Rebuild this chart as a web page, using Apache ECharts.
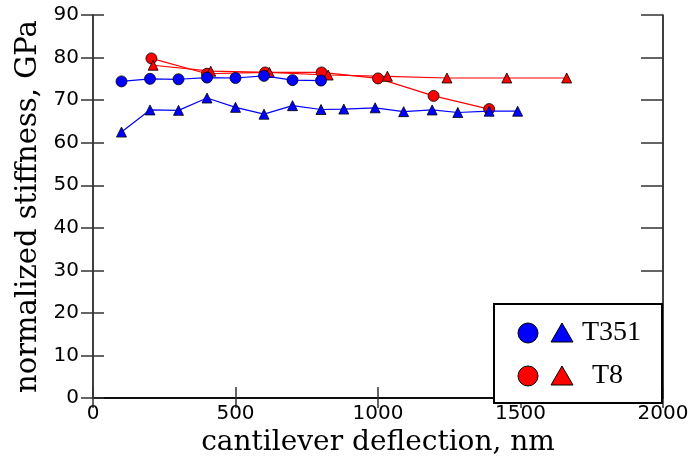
<!DOCTYPE html>
<html>
<head>
<meta charset="utf-8">
<script src="https://cdn.jsdelivr.net/npm/echarts@6/dist/echarts.min.js"></script>
<style>html,body{margin:0;padding:0;background:#fff;}#c{width:692px;height:462px;}</style>
</head>
<body>
<div id="c"></div>
<script>
// T351 circles
const t351CircX = [100, 200, 300, 400, 500, 600, 700, 800];
const t351CircY = [74.4, 75.0, 74.9, 75.3, 75.2, 75.7, 74.7, 74.6];
// T351 triangles
const t351TriX = [100, 200, 300, 400, 500, 600, 700, 800, 880, 990, 1090, 1190, 1280, 1390, 1490];
const t351TriY = [62.5, 67.7, 67.6, 70.5, 68.3, 66.7, 68.7, 67.8, 67.9, 68.2, 67.3, 67.7, 67.1, 67.4, 67.4];
// T8 circles
const t8CircX = [205, 400, 604, 802, 1000, 1195, 1390];
const t8CircY = [79.8, 76.2, 76.5, 76.5, 75.1, 71.0, 67.9];
// T8 triangles
const t8TriX = [211, 413, 619, 825, 1033, 1242, 1452, 1662];
const t8TriY = [78.2, 76.8, 76.5, 75.9, 75.6, 75.2, 75.2, 75.2];

const xTicks = [0, 500, 1000, 1500, 2000];
const yTicks = [0, 10, 20, 30, 40, 50, 60, 70, 80, 90];
const legendNames = ['T351', 'T8'];

const zip = (xs, ys) => xs.map((x, i) => [x, ys[i]]);
const serifFont = '"DejaVu Serif"';
const axisCol = '#000';

const xBase = {type: 'value', min: xTicks[0], max: xTicks[xTicks.length - 1], interval: 500, splitLine: {show: false}};
const yBase = {type: 'value', min: yTicks[0], max: yTicks[yTicks.length - 1], interval: 10, splitLine: {show: false}};

const chart = echarts.init(document.getElementById('c'), null, {renderer: 'canvas'});
const option = {
  animation: false,
  backgroundColor: '#fff',
  grid: {left: 93, right: 29, top: 15, bottom: 57, containLabel: false},
  xAxis: [
    Object.assign({}, xBase, {
      position: 'bottom',
      name: 'cantilever deflection, nm', nameLocation: 'middle', nameGap: 21,
      nameTextStyle: {fontFamily: serifFont, fontSize: 28, color: '#000'},
      axisLine: {show: true, lineStyle: {color: axisCol, width: 1.5}},
      axisTick: {show: true, inside: true, length: 11, lineStyle: {color: '#333', width: 1.5}},
      axisLabel: {show: true, margin: 6, fontFamily: '"DejaVu Sans"', fontSize: 20, color: '#000',
                  formatter: v => String(v)}
    }),
    Object.assign({}, xBase, {
      position: 'top',
      axisLine: {show: true, lineStyle: {color: axisCol, width: 1.5}},
      axisTick: {show: true, inside: true, length: 10, lineStyle: {color: '#333', width: 1.5}},
      axisLabel: {show: false}
    })
  ],
  yAxis: [
    Object.assign({}, yBase, {
      position: 'left',
      name: 'normalized stiffness, GPa', nameLocation: 'middle', nameGap: 46,
      nameTextStyle: {fontFamily: serifFont, fontSize: 29, color: '#000'},
      axisLine: {show: true, lineStyle: {color: axisCol, width: 1.5}},
      axisTick: {show: true, inside: false, length: 12, lineStyle: {color: '#333', width: 1.5}},
      axisLabel: {show: true, margin: 14, fontFamily: '"DejaVu Sans"', fontSize: 20, color: '#000',
                  formatter: v => String(v)}
    }),
    Object.assign({}, yBase, {
      position: 'left',
      axisLine: {show: false},
      axisTick: {show: true, inside: true, length: 11, lineStyle: {color: '#333', width: 1.5}},
      axisLabel: {show: false}
    }),
    Object.assign({}, yBase, {
      position: 'right',
      axisLine: {show: true, lineStyle: {color: axisCol, width: 1.5}},
      axisTick: {show: true, inside: true, length: 22, lineStyle: {color: '#333', width: 1.5}},
      axisLabel: {show: false}
    })
  ],
  series: [
    {
      name: 'T8 circles', type: 'line', data: zip(t8CircX, t8CircY), z: 2,
      symbol: 'circle', symbolSize: 11, showAllSymbol: true,
      lineStyle: {color: '#ff0000', width: 1.2},
      itemStyle: {color: '#ff0000', borderColor: '#000', borderWidth: 0.8}
    },
    {
      name: 'T8 triangles', type: 'line', data: zip(t8TriX, t8TriY), z: 2,
      symbol: 'triangle', symbolSize: 10, showAllSymbol: true,
      lineStyle: {color: '#ff0000', width: 1.2},
      itemStyle: {color: '#ff0000', borderColor: '#000', borderWidth: 0.8}
    },
    {
      name: 'T351 circles', type: 'line', data: zip(t351CircX, t351CircY), z: 3,
      symbol: 'circle', symbolSize: 11, showAllSymbol: true,
      lineStyle: {color: '#0000ff', width: 1.2},
      itemStyle: {color: '#0000ff', borderColor: '#000', borderWidth: 0.8}
    },
    {
      name: 'T351 triangles', type: 'line', data: zip(t351TriX, t351TriY), z: 3,
      symbol: 'triangle', symbolSize: 10, showAllSymbol: true,
      lineStyle: {color: '#0000ff', width: 1.2},
      itemStyle: {color: '#0000ff', borderColor: '#000', borderWidth: 0.8}
    }
  ],
  graphic: [
    {type: 'rect', z: 100, shape: {x: 494, y: 304, width: 168, height: 99},
     style: {fill: '#fff', stroke: '#000', lineWidth: 2}},
    {type: 'circle', z: 101, shape: {cx: 528, cy: 333, r: 10},
     style: {fill: '#0000ff', stroke: '#000', lineWidth: 1}},
    {type: 'polygon', z: 101, shape: {points: [[562, 323], [573, 342], [551, 342]]},
     style: {fill: '#0000ff', stroke: '#000', lineWidth: 1}},
    {type: 'text', z: 101, x: 582, y: 333,
     style: {text: legendNames[0], font: '28px "Liberation Serif"', fill: '#000', verticalAlign: 'middle', align: 'left'}},
    {type: 'circle', z: 101, shape: {cx: 528, cy: 376, r: 10},
     style: {fill: '#ff0000', stroke: '#000', lineWidth: 1}},
    {type: 'polygon', z: 101, shape: {points: [[562, 366], [573, 385], [551, 385]]},
     style: {fill: '#ff0000', stroke: '#000', lineWidth: 1}},
    {type: 'text', z: 101, x: 592, y: 376,
     style: {text: legendNames[1], font: '28px "Liberation Serif"', fill: '#000', verticalAlign: 'middle', align: 'left'}}
  ]
};
chart.setOption(option);
</script>
</body>
</html>
